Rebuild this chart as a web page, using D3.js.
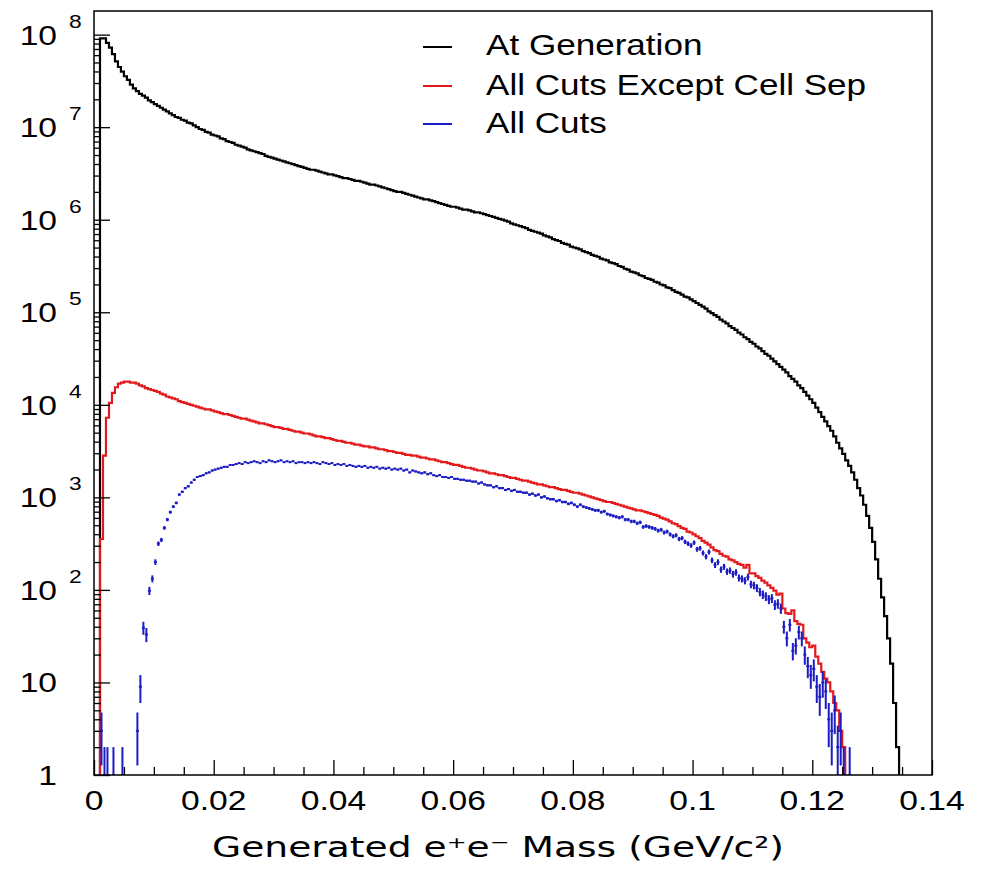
<!DOCTYPE html>
<html>
<head>
<meta charset="utf-8">
<script src="https://cdn.jsdelivr.net/npm/d3@7"></script>
<style>
body { margin: 0; background: #fff; }
svg { display: block; }
</style>
</head>
<body>
<svg id="chart" width="986" height="871"></svg>
<script>
// histogram bins of 0.0005 GeV from 0 to 0.14, values are log10(counts), null = empty bin
const binWidth = 0.0005

const genLog10 = [
  null, null, 7.96, 7.96, 7.91, 7.86, 7.79, 7.71, 7.65, 7.60,
  7.55, 7.51, 7.46, 7.42, 7.39, 7.36, 7.34, 7.32, 7.29, 7.27,
  7.25, 7.23, 7.21, 7.19, 7.17, 7.15, 7.13, 7.11, 7.10, 7.08,
  7.07, 7.05, 7.04, 7.02, 7.00, 6.98, 6.97, 6.95, 6.94, 6.92,
  6.91, 6.90, 6.88, 6.87, 6.85, 6.84, 6.83, 6.81, 6.80, 6.79,
  6.78, 6.76, 6.75, 6.74, 6.73, 6.72, 6.71, 6.69, 6.68, 6.67,
  6.66, 6.65, 6.64, 6.63, 6.62, 6.61, 6.60, 6.59, 6.58, 6.57,
  6.56, 6.55, 6.54, 6.54, 6.53, 6.52, 6.51, 6.50, 6.49, 6.49,
  6.48, 6.47, 6.46, 6.45, 6.45, 6.44, 6.43, 6.42, 6.42, 6.41,
  6.40, 6.39, 6.38, 6.38, 6.37, 6.36, 6.35, 6.34, 6.33, 6.32,
  6.31, 6.30, 6.30, 6.29, 6.28, 6.27, 6.26, 6.25, 6.24, 6.23,
  6.22, 6.22, 6.21, 6.20, 6.19, 6.18, 6.17, 6.16, 6.15, 6.14,
  6.14, 6.13, 6.12, 6.11, 6.11, 6.10, 6.09, 6.08, 6.08, 6.07,
  6.06, 6.05, 6.04, 6.03, 6.02, 6.01, 6.00, 5.99, 5.98, 5.96,
  5.95, 5.94, 5.93, 5.92, 5.91, 5.89, 5.88, 5.87, 5.86, 5.85,
  5.83, 5.82, 5.81, 5.79, 5.78, 5.77, 5.75, 5.74, 5.73, 5.71,
  5.70, 5.69, 5.68, 5.66, 5.65, 5.64, 5.62, 5.61, 5.60, 5.58,
  5.57, 5.56, 5.54, 5.53, 5.52, 5.50, 5.49, 5.47, 5.46, 5.44,
  5.43, 5.42, 5.40, 5.39, 5.37, 5.36, 5.35, 5.33, 5.32, 5.30,
  5.29, 5.27, 5.26, 5.24, 5.22, 5.21, 5.19, 5.17, 5.16, 5.14,
  5.12, 5.10, 5.08, 5.06, 5.04, 5.01, 4.99, 4.97, 4.95, 4.92,
  4.90, 4.88, 4.85, 4.83, 4.81, 4.78, 4.76, 4.73, 4.71, 4.68,
  4.66, 4.63, 4.61, 4.58, 4.55, 4.53, 4.50, 4.47, 4.44, 4.41,
  4.38, 4.35, 4.31, 4.28, 4.25, 4.21, 4.18, 4.14, 4.10, 4.06,
  4.02, 3.97, 3.92, 3.87, 3.82, 3.77, 3.72, 3.66, 3.59, 3.53,
  3.47, 3.40, 3.34, 3.27, 3.19, 3.10, 3.02, 2.92, 2.80, 2.67,
  2.52, 2.33, 2.12, 1.92, 1.72, 1.48, 1.20, 0.75, 0.30, null,
  null, null, null, null, null, null, null, null, null, null
]

const noSepLog10 = [
  null, null, 2.55, 3.45, 3.86, 4.02, 4.13, 4.19, 4.23, 4.24,
  4.25, 4.25, 4.24, 4.24, 4.23, 4.21, 4.20, 4.18, 4.17, 4.16,
  4.15, 4.14, 4.12, 4.11, 4.09, 4.08, 4.07, 4.06, 4.04, 4.03,
  4.02, 4.01, 4.00, 3.99, 3.98, 3.97, 3.96, 3.95, 3.95, 3.94,
  3.93, 3.92, 3.91, 3.90, 3.90, 3.89, 3.88, 3.87, 3.86, 3.85,
  3.85, 3.84, 3.83, 3.82, 3.81, 3.80, 3.80, 3.79, 3.78, 3.77,
  3.76, 3.76, 3.75, 3.74, 3.74, 3.73, 3.72, 3.71, 3.71, 3.70,
  3.69, 3.69, 3.68, 3.67, 3.66, 3.66, 3.65, 3.64, 3.64, 3.63,
  3.62, 3.61, 3.61, 3.60, 3.59, 3.59, 3.58, 3.57, 3.57, 3.56,
  3.55, 3.55, 3.54, 3.54, 3.53, 3.52, 3.52, 3.51, 3.50, 3.50,
  3.49, 3.48, 3.48, 3.47, 3.46, 3.46, 3.45, 3.45, 3.44, 3.43,
  3.43, 3.42, 3.41, 3.41, 3.40, 3.39, 3.38, 3.38, 3.37, 3.36,
  3.35, 3.35, 3.34, 3.33, 3.32, 3.32, 3.31, 3.30, 3.29, 3.29,
  3.28, 3.27, 3.26, 3.26, 3.25, 3.24, 3.24, 3.23, 3.22, 3.21,
  3.21, 3.20, 3.19, 3.18, 3.18, 3.17, 3.16, 3.15, 3.14, 3.14,
  3.13, 3.12, 3.11, 3.11, 3.10, 3.09, 3.08, 3.08, 3.07, 3.06,
  3.05, 3.05, 3.04, 3.03, 3.02, 3.01, 3.00, 2.99, 2.98, 2.97,
  2.96, 2.95, 2.95, 2.94, 2.93, 2.92, 2.91, 2.90, 2.89, 2.88,
  2.87, 2.86, 2.86, 2.85, 2.84, 2.83, 2.82, 2.81, 2.80, 2.78,
  2.77, 2.76, 2.74, 2.72, 2.71, 2.69, 2.67, 2.66, 2.63, 2.62,
  2.60, 2.58, 2.56, 2.53, 2.51, 2.49, 2.46, 2.43, 2.42, 2.39,
  2.37, 2.36, 2.33, 2.32, 2.30, 2.28, 2.27, 2.24, 2.27, 2.18,
  2.18, 2.15, 2.13, 2.10, 2.08, 2.05, 2.02, 1.99, 1.95, 1.96,
  1.80, 1.75, 1.74, 1.78, 1.66, 1.63, 1.62, 1.48, 1.43, 1.38,
  1.40, 1.28, 1.20, 1.12, 1.06, 0.98, 0.89, 0.78, 0.67, 0.45,
  0.30, null, null, null, null, null, null, null, null, null,
  null, null, null, null, null, null, null, null, null, null,
  null, null, null, null, null, null, null, null, null, null
]

const allCutsLog10 = [
  null, null, 0.48, 0, 0, null, 0, null, null, 0,
  null, null, null, null, 0.48, 0.95, 1.59, 1.52, 1.99, 2.12,
  2.30, 2.50, 2.54, 2.67, 2.76, 2.84, 2.90, 2.94, 3.03, 3.06,
  3.10, 3.12, 3.16, 3.19, 3.22, 3.23, 3.24, 3.26, 3.27, 3.29,
  3.30, 3.31, 3.32, 3.33, 3.33, 3.35, 3.35, 3.36, 3.37, 3.36,
  3.38, 3.37, 3.38, 3.39, 3.38, 3.37, 3.39, 3.38, 3.40, 3.39,
  3.38, 3.39, 3.40, 3.38, 3.39, 3.38, 3.39, 3.37, 3.38, 3.38,
  3.37, 3.38, 3.37, 3.38, 3.37, 3.36, 3.38, 3.37, 3.36, 3.37,
  3.35, 3.36, 3.35, 3.36, 3.34, 3.35, 3.34, 3.33, 3.34, 3.33,
  3.34, 3.32, 3.33, 3.32, 3.33, 3.31, 3.32, 3.31, 3.32, 3.30,
  3.31, 3.30, 3.31, 3.29, 3.30, 3.27, 3.29, 3.28, 3.27, 3.26,
  3.27, 3.25, 3.26, 3.24, 3.23, 3.24, 3.22, 3.22, 3.21, 3.22,
  3.20, 3.20, 3.19, 3.19, 3.18, 3.18, 3.17, 3.17, 3.15, 3.16,
  3.14, 3.13, 3.13, 3.11, 3.12, 3.10, 3.10, 3.08, 3.09, 3.07,
  3.08, 3.06, 3.06, 3.05, 3.05, 3.03, 3.04, 3.02, 3.03, 3.00,
  3.01, 2.99, 2.98, 2.98, 2.96, 2.97, 2.95, 2.95, 2.93, 2.94,
  2.92, 2.90, 2.92, 2.90, 2.89, 2.88, 2.87, 2.86, 2.86, 2.84,
  2.85, 2.82, 2.81, 2.80, 2.79, 2.78, 2.79, 2.76, 2.76, 2.74,
  2.74, 2.72, 2.73, 2.68, 2.69, 2.68, 2.67, 2.66, 2.64, 2.65,
  2.62, 2.63, 2.60, 2.58, 2.59, 2.55, 2.56, 2.52, 2.50, 2.48,
  2.51, 2.44, 2.45, 2.40, 2.36, 2.41, 2.32, 2.27, 2.30, 2.22,
  2.25, 2.20, 2.21, 2.17, 2.19, 2.13, 2.12, 2.10, 2.14, 2.06,
  2.05, 2.02, 1.98, 1.95, 1.93, 1.90, 1.91, 1.84, 1.85, 1.80,
  1.60, 1.48, 1.62, 1.35, 1.40, 1.55, 1.48, 1.30, 1.18, 1.08,
  1.15, 0.95, 0.85, 1.00, 0.90, 0.60, 0.50, 0.70, 0.30, 0.48,
  0, null, 0, null, null, null, null, null, null, null,
  null, null, null, null, null, null, null, null, null, null,
  null, null, null, null, null, null, null, null, null, null
]

const seriesNames = ["At Generation", "All Cuts Except Cell Sep", "All Cuts"]
const seriesColors = ["#000000", "#e3191c", "#1c1cc4"]

const xTickValues = [0, 0.02, 0.04, 0.06, 0.08, 0.1, 0.12, 0.14]
const xTickLabels = ["0", "0.02", "0.04", "0.06", "0.08", "0.1", "0.12", "0.14"]
const yDecades = [0, 1, 2, 3, 4, 5, 6, 7, 8]
const yBaseLabels = ["1", "10", "10", "10", "10", "10", "10", "10", "10"]
const yExpLabels = ["", "", "2", "3", "4", "5", "6", "7", "8"]

const plotLeft = 94, plotRight = 932, plotTop = 11, plotBottom = 775
const helv = "'Liberation Sans', Arial, Helvetica, sans-serif"
const stretch = 1.2

const svg = d3.select("#chart")
const x = d3.scaleLinear().domain([0, 0.14]).range([plotLeft, plotRight])
const y = d3.scaleLog().domain([1, 1.8e8]).range([plotBottom, plotTop]).clamp(true)

const toCount = (v) => v === null ? 0 : Math.round(Math.pow(10, v))
const yOf = (n) => n <= 0 ? plotBottom : y(Math.max(n, 0.5))

svg.append("defs").append("clipPath").attr("id", "plotClip")
  .append("rect").attr("x", plotLeft).attr("y", plotTop)
  .attr("width", plotRight - plotLeft).attr("height", plotBottom - plotTop)

const plot = svg.append("g").attr("clip-path", "url(#plotClip)")

// step histograms for black and red, from the first filled bin to the last one
const stepPoints = (arr) => {
  let first = arr.findIndex(v => v !== null)
  let last = arr.length - 1
  while (arr[last] === null) last--
  let pts = [[x(first * binWidth), plotBottom]]
  for (let i = first; i <= last; i++) {
    let yy = yOf(toCount(arr[i]))
    pts.push([x(i * binWidth), yy], [x((i + 1) * binWidth), yy])
  }
  pts.push([x((last + 1) * binWidth), plotBottom])
  return pts
}
const line = d3.line()

plot.append("path").attr("d", line(stepPoints(genLog10)))
  .attr("fill", "none").attr("stroke", seriesColors[0]).attr("stroke-width", 2.2)
plot.append("path").attr("d", line(stepPoints(noSepLog10)))
  .attr("fill", "none").attr("stroke", seriesColors[1]).attr("stroke-width", 2.2)

// blue: points with error bars
let blueBins = allCutsLog10.map((v, i) => ({ i: i, n: toCount(v), empty: v === null })).filter(d => !d.empty)
let blueG = plot.append("g").attr("stroke", seriesColors[2]).attr("stroke-width", 2)
blueG.selectAll("line.h").data(blueBins).join("line").attr("class", "h")
  .attr("x1", d => x(d.i * binWidth)).attr("x2", d => x((d.i + 1) * binWidth))
  .attr("y1", d => yOf(d.n)).attr("y2", d => yOf(d.n))
blueG.selectAll("line.v").data(blueBins).join("line").attr("class", "v")
  .attr("x1", d => x((d.i + 0.5) * binWidth)).attr("x2", d => x((d.i + 0.5) * binWidth))
  .attr("y1", d => yOf(d.n + Math.sqrt(d.n))).attr("y2", d => yOf(d.n - Math.sqrt(d.n)))

// axes ticks (inside the frame)
let minorX = d3.range(0, 0.1401, 0.005).filter(v => Math.abs(v / 0.02 - Math.round(v / 0.02)) > 1e-6)
svg.append("g").attr("transform", `translate(0,${plotBottom})`)
  .call(d3.axisBottom(x).tickValues(xTickValues).tickSize(-15).tickFormat(""))
  .call(g => g.select(".domain").remove())
svg.append("g").attr("transform", `translate(0,${plotBottom})`)
  .call(d3.axisBottom(x).tickValues(minorX).tickSize(-8).tickFormat(""))
  .call(g => g.select(".domain").remove())

let majorY = yDecades.map(d => Math.pow(10, d))
let minorY = []
yDecades.forEach(d => { for (let k = 2; k <= 9; k++) if (k * Math.pow(10, d) < 1.8e8) minorY.push(k * Math.pow(10, d)) })
svg.append("g").attr("transform", `translate(${plotLeft},0)`)
  .call(d3.axisLeft(y).tickValues(majorY).tickSize(-16).tickFormat(""))
  .call(g => g.select(".domain").remove())
svg.append("g").attr("transform", `translate(${plotLeft},0)`)
  .call(d3.axisLeft(y).tickValues(minorY).tickSize(-7).tickFormat(""))
  .call(g => g.select(".domain").remove())
svg.selectAll(".tick line").attr("stroke", "#000").attr("stroke-width", 1.3)

// frame
svg.append("rect").attr("x", plotLeft).attr("y", plotTop)
  .attr("width", plotRight - plotLeft).attr("height", plotBottom - plotTop)
  .attr("fill", "none").attr("stroke", "#000").attr("stroke-width", 1.5)

const text = (str, tx, ty, size, anchor, family, sx) =>
  svg.append("text").attr("transform", `translate(${tx},${ty}) scale(${sx || stretch},1)`)
    .attr("text-anchor", anchor).style("font-family", family).style("font-size", size + "px")
    .attr("fill", "#000").text(str)

// tick labels
xTickValues.forEach((v, i) => text(xTickLabels[i], x(v), 810, 28, "middle", helv))
yDecades.forEach((d, i) => {
  let ty = y(Math.pow(10, d))
  text(yBaseLabels[i], 57, ty + 10, 28, "end", helv)
  if (yExpLabels[i]) text(yExpLabels[i], 69, ty - 7, 19, "start", helv)
})

// axis title
svg.append("text").attr("x", 212).attr("y", 857)
  .attr("textLength", 572).attr("lengthAdjust", "spacingAndGlyphs")
  .style("font-family", "'DejaVu Sans', Verdana, sans-serif").style("font-size", "28px")
  .text("Generated e\u207Ae\u207B Mass (GeV/c\u00B2)")

// legend
const legendY = [47, 86, 124]
const legendBase = [55, 95, 133]
seriesNames.forEach((name, i) => {
  svg.append("line").attr("x1", 423).attr("x2", 452).attr("y1", legendY[i]).attr("y2", legendY[i])
    .attr("stroke", seriesColors[i]).attr("stroke-width", 2)
  text(name, 486, legendBase[i], 30, "start", helv, 1.17)
})
</script>
</body>
</html>
